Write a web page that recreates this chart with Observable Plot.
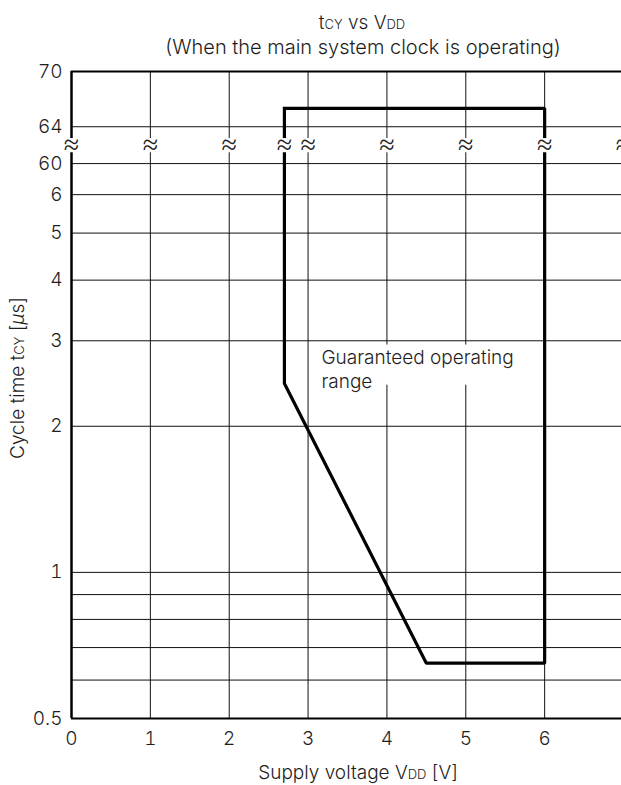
<!DOCTYPE html>
<html><head><meta charset="utf-8">
<script src="https://cdn.jsdelivr.net/npm/d3@7"></script>
<script src="https://cdn.jsdelivr.net/npm/@observablehq/plot@0.6"></script>
<style>
html,body{margin:0;padding:0;background:#fff;}
</style>
</head><body><div id="chart"></div>
<script>
// ---- data ----
const yTickValues = [0.5, 1, 2, 3, 4, 5, 6, 60, 64, 70];
const yTickLabels = ["0.5", "1", "2", "3", "4", "5", "6", "60", "64", "70"];
const yGridValues = [0.6, 0.7, 0.8, 0.9, 1, 2, 3, 4, 5, 6, 60, 64];
const xTickValues = [0, 1, 2, 3, 4, 5, 6];
const xGridValues = [1, 2, 3, 4, 5, 6, 7];
const regionVoltage = [2.7, 2.7, 4.5, 6, 6, 2.7];
const regionCycleTime = [66, 2.45, 0.65, 0.65, 66, 66];
const breakVoltages = [0, 1, 2, 2.7, 3, 4, 5, 6, 7];
const breakCycleTime = 62;
const lowerMax = 6, upperMin = 60;
const areaLabel = "Guaranteed operating\nrange";

// broken axis: log10 below the break, linear above it
function fy(v) {
  return v <= lowerMax ? Math.log10(v)
    : Math.log10(lowerMax) + 0.064 + (v - upperMin) * 0.01897;
}
const tickLabelMap = new Map(yTickValues.map((v, i) => [fy(v), yTickLabels[i]]));
const region = regionVoltage.map((v, i) => ({v, t: regionCycleTime[i]}));

const FS = 19;
const INK = "#1e1e1e";
const plot = Plot.plot({
  width: 621, height: 785,
  marginTop: 71, marginBottom: 67, marginLeft: 71, marginRight: -2,
  x: {domain: [0, 7]},
  y: {domain: [fy(0.5), fy(70)]},
  style: {fontFamily: "Inter, Liberation Sans, Arial, sans-serif", fontSize: FS + "px", fontWeight: 300, color: INK, background: "#fff"},
  marks: [
    Plot.ruleY(yGridValues, {y: d => fy(d), stroke: "#111", strokeWidth: 1}),
    Plot.ruleX(xGridValues, {x: d => d, stroke: "#111", strokeWidth: 1}),
    Plot.rect([areaLabel], {x1: 3.1, x2: 5.85, y1: () => fy(2.43), y2: () => fy(2.94), fill: "#fff"}),
    Plot.line(region, {x: "v", y: d => fy(d.t), stroke: "#000", strokeWidth: 3.2, strokeLinejoin: "miter", strokeLinecap: "square"}),
    Plot.text([areaLabel], {x: 3.17, y: () => fy(2.92), text: d => d, textAnchor: "start", lineAnchor: "top", lineHeight: 1.27, fontSize: FS, fill: INK}),
    Plot.ruleX([0], {x: d => d, stroke: "#000", strokeWidth: 2.5}),
    Plot.ruleY([0.5, 70], {y: d => fy(d), stroke: "#000", strokeWidth: 2.2}),
    Plot.dot(breakVoltages, {x: d => d, y: () => fy(breakCycleTime), symbol: "square", r: 8, fill: "#fff", stroke: "none"}),
    Plot.text(breakVoltages, {x: d => d, y: () => fy(breakCycleTime), text: () => "≈", fontSize: 28, fontFamily: "DejaVu Sans", fontWeight: 200, fill: "#222"}),
    Plot.axisY(yTickValues.map(fy), {tickSize: 0, tickPadding: 9, tickFormat: t => tickLabelMap.get(t), label: null, fontSize: FS}),
    Plot.axisX(xTickValues, {tickSize: 0, tickPadding: 13, tickFormat: d => String(d), label: null, fontSize: FS})
  ]
});
document.getElementById("chart").appendChild(plot);

// titles and axis labels with small subscript letters
const svg = d3.select(plot);
function addText(parent, parts, attrs) {
  const t = parent.append("text");
  for (const [k, v] of Object.entries(attrs)) t.attr(k, v);
  for (const p of parts) {
    const s = t.append("tspan").text(p.text);
    if (p.small) s.attr("font-size", p.small);
    if (p.italic) s.attr("font-style", "italic");
  }
  return t;
}
addText(svg, [{text: "t"}, {text: "CY", small: 13}, {text: " vs V"}, {text: "DD", small: 13}],
  {x: 362, y: 29, "text-anchor": "middle", "font-size": 19, fill: INK});
addText(svg, [{text: "(When the main system clock is operating)"}],
  {x: 363, y: 54, "text-anchor": "middle", "font-size": 20, fill: INK});
addText(svg, [{text: "Supply voltage V"}, {text: "DD", small: 13}, {text: " [V]"}],
  {x: 358, y: 779, "text-anchor": "middle", "font-size": 19, fill: INK});
addText(svg, [{text: "Cycle time t"}, {text: "CY", small: 13}, {text: " ["}, {text: "µ", italic: true}, {text: "s]"}],
  {transform: "translate(24,378) rotate(-90)", "text-anchor": "middle", "font-size": 19, fill: INK});
</script>
</body></html>
